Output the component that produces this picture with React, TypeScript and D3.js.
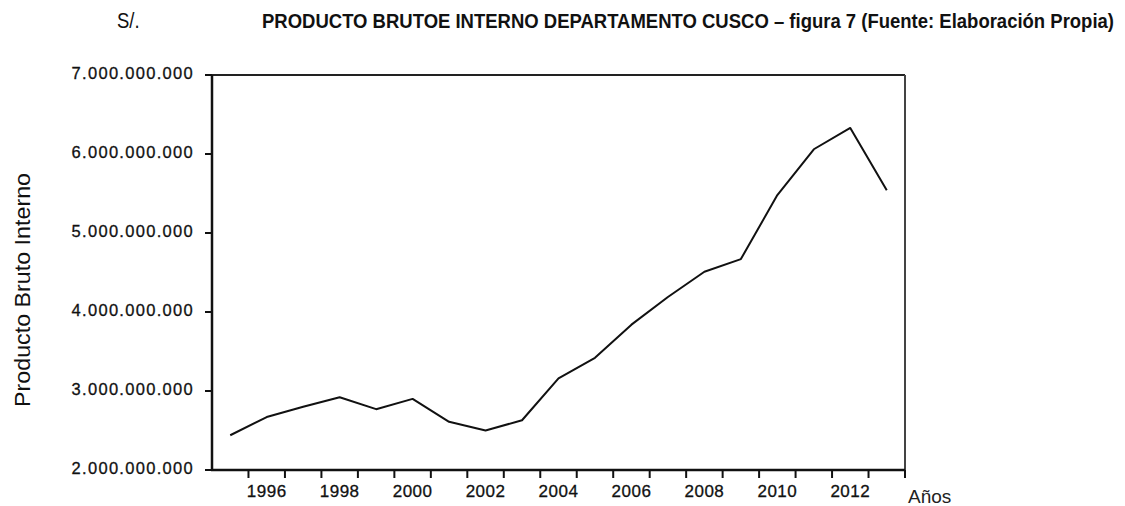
import React from "react";
import * as d3 from "d3";

const years: number[] = [1995, 1996, 1997, 1998, 1999, 2000, 2001, 2002, 2003, 2004, 2005, 2006, 2007, 2008, 2009, 2010, 2011, 2012, 2013];
const pbi: number[] = [2.44e9, 2.67e9, 2.80e9, 2.92e9, 2.77e9, 2.90e9, 2.61e9, 2.50e9, 2.63e9, 3.16e9, 3.42e9, 3.84e9, 4.19e9, 4.51e9, 4.67e9, 5.48e9, 6.06e9, 6.33e9, 5.54e9];
const yTicks: number[] = [2e9, 3e9, 4e9, 5e9, 6e9, 7e9];
const xLabelYears: number[] = [1996, 1998, 2000, 2002, 2004, 2006, 2008, 2010, 2012];
const titleText = "PRODUCTO BRUTOE INTERNO DEPARTAMENTO CUSCO – figura 7 (Fuente: Elaboración Propia)";
const currencyText = "S/.";
const yTitle = "Producto Bruto Interno";
const xTitle = "Años";

const W = 1125;
const H = 506;
const left = 212, right = 905, top = 75, bottom = 470;

export default function App() {
  const x = d3.scaleLinear().domain([1994.5, 2013.5]).range([left, right]);
  const y = d3.scaleLinear().domain([2e9, 7e9]).range([bottom, top]);
  const loc = d3.formatLocale({ decimal: ",", thousands: ".", grouping: [3], currency: ["S/.", ""] });
  const fmt = loc.format(",d");
  const line = d3.line<number>().x((_, i) => x(years[i])).y((d) => y(d));
  const boundaries = d3.range(1995.5, 2013.6, 1);
  const axisFont = "Arial, 'Liberation Sans', sans-serif";

  return (
    <svg width={W} height={H} style={{ position: "absolute", left: 0, top: 0, background: "#fff" }}>
      <rect x={0} y={0} width={W} height={H} fill="#fff" />
      <text transform="translate(117,28) scale(1,1.15)" fontFamily={axisFont} fontSize={18.5} fill="#111">{currencyText}</text>
      <text transform="translate(262,28) scale(1,1.15)" fontFamily={axisFont} fontWeight="bold" fontSize={18.3} fill="#111" textLength={852} lengthAdjust="spacingAndGlyphs">{titleText}</text>

      {/* frame */}
      <line x1={left} x2={right} y1={top} y2={top} stroke="#222" strokeWidth={2} />
      <line x1={right} x2={right} y1={top} y2={bottom} stroke="#444" strokeWidth={2} />
      <line x1={left} x2={left} y1={top} y2={bottom + 1} stroke="#111" strokeWidth={2.5} />
      <line x1={left - 1} x2={right} y1={bottom} y2={bottom} stroke="#111" strokeWidth={2.5} />

      {/* y ticks */}
      {yTicks.map((t) => (
        <g key={t}>
          <line x1={left - 7} x2={left} y1={y(t)} y2={y(t)} stroke="#111" strokeWidth={2} />
          <text x={194} y={y(t) - 2} dy="0.36em" textAnchor="end" fontFamily={axisFont} fontSize={16.5} letterSpacing={1.3} fill="#111" stroke="#111" strokeWidth={0.3}>{fmt(t)}</text>
        </g>
      ))}

      {/* x ticks */}
      {boundaries.map((b) => (
        <line key={b} x1={x(b)} x2={x(b)} y1={bottom} y2={bottom + 8} stroke="#111" strokeWidth={2} />
      ))}
      {xLabelYears.map((yr) => (
        <text key={yr} x={x(yr)} y={497} textAnchor="middle" fontFamily={axisFont} fontSize={17} letterSpacing={0.5} fill="#111" stroke="#111" strokeWidth={0.3}>{yr}</text>
      ))}

      <path d={line(pbi) || ""} fill="none" stroke="#111" strokeWidth={2} strokeLinejoin="round" />

      <text transform="translate(30,290) rotate(-90)" textAnchor="middle" fontFamily={axisFont} fontSize={22.5} fill="#111" textLength={234} lengthAdjust="spacingAndGlyphs">{yTitle}</text>
      <text x={908} y={503} fontFamily={axisFont} fontSize={19} fill="#222">{xTitle}</text>
    </svg>
  );
}
